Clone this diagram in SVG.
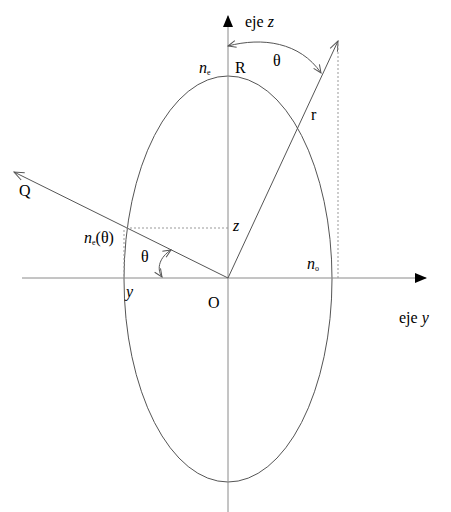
<svg xmlns="http://www.w3.org/2000/svg" width="451" height="512" viewBox="0 0 451 512">
<style>
text{font-family:"Liberation Serif","Times New Roman",serif;font-size:16px;fill:#000}
.it{font-style:italic}
.sub{font-size:8px}
.axis{stroke:#8a8a8a;stroke-width:1;fill:none}
.ln{stroke:#555;stroke-width:1;fill:none}
.dot{stroke:#999;stroke-width:1;stroke-dasharray:2,2;fill:none}
</style>
<defs>
<marker id="fill" markerWidth="12" markerHeight="10" refX="11" refY="5" orient="auto" markerUnits="userSpaceOnUse">
<path d="M0,0 L12,5 L0,10 Z" fill="#000"/>
</marker>
<marker id="open" markerWidth="12" markerHeight="10" refX="11" refY="5" orient="auto" markerUnits="userSpaceOnUse">
<path d="M1,1 L11,5 L1,9" fill="none" stroke="#555" stroke-width="1"/>
</marker>
<marker id="openS" markerWidth="10" markerHeight="10" refX="9" refY="5" orient="auto-start-reverse" markerUnits="userSpaceOnUse">
<path d="M1,1.5 L9,5 L1,8.5" fill="none" stroke="#555" stroke-width="1"/>
</marker>
</defs>
<g id="ellipse"><ellipse cx="228" cy="279" rx="104" ry="203" class="ln"/></g>
<g id="connectors">
<line x1="228" y1="512" x2="228" y2="16" class="axis" marker-end="url(#fill)"/>
<line x1="22" y1="278" x2="426" y2="278" class="axis" marker-end="url(#fill)"/>
<line x1="228" y1="278" x2="14" y2="172" class="ln" marker-end="url(#open)"/>
<line x1="228" y1="278" x2="338" y2="41" class="ln" marker-end="url(#open)"/>
<line x1="338" y1="44" x2="338" y2="278" class="dot"/>
<line x1="126" y1="228" x2="228" y2="228" class="dot"/>
<line x1="124" y1="230" x2="124" y2="278" class="dot"/>
<path d="M228 46 C262 37,300 42,321 73" class="ln" marker-start="url(#openS)" marker-end="url(#openS)"/>
<path d="M171 250 C160 257,156 268,162 277" class="ln" marker-start="url(#openS)" marker-end="url(#openS)"/>
</g>
<g id="labels">
<text x="245" y="27">eje <tspan class="it">z</tspan></text>
<text x="273" y="66">θ</text>
<text x="199" y="73" class="it">n<tspan class="sub" dy="2" style="font-style:normal">e</tspan></text>
<text x="235" y="73">R</text>
<text x="311" y="120">r</text>
<text x="19" y="196">Q</text>
<text x="84" y="243"><tspan class="it">n</tspan><tspan class="sub" dy="2">e</tspan><tspan dy="-2">(θ)</tspan></text>
<text x="141" y="262">θ</text>
<text x="233" y="231" class="it">z</text>
<text x="126" y="297" class="it">y</text>
<text x="208" y="308">O</text>
<text x="307" y="269" class="it">n<tspan class="sub" dy="2" style="font-style:normal">o</tspan></text>
<text x="399" y="323">eje <tspan class="it">y</tspan></text>
</g>
</svg>
